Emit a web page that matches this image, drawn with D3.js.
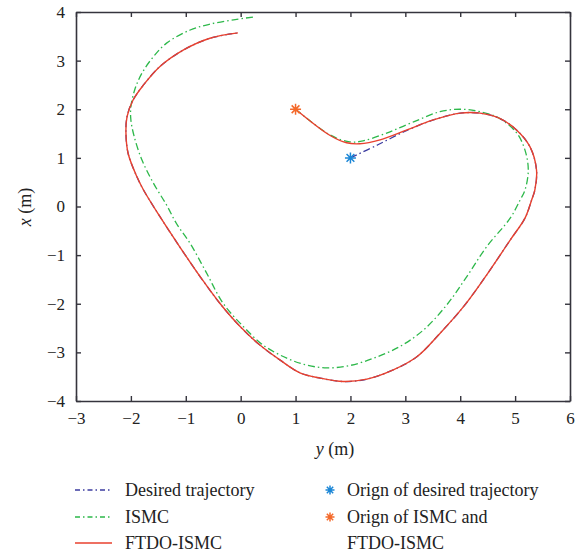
<!DOCTYPE html>
<html>
<head>
<meta charset="utf-8">
<script src="https://cdn.jsdelivr.net/npm/d3@7"></script>
<style>
  body { margin: 0; background: #fff; }
</style>
</head>
<body>
<svg width="585" height="559" font-family="Liberation Serif, DejaVu Serif, serif"></svg>
<script>
// trajectory points, [y, x] in metres
const ftdo = [
  [1.00, 2.00], [1.63, 1.46], [1.93, 1.31], [2.17, 1.29], [2.54, 1.37], [3.02, 1.57],
  [3.51, 1.78], [4.00, 1.92], [4.36, 1.92], [4.72, 1.81], [5.03, 1.57], [5.27, 1.23],
  [5.39, 0.75], [5.36, 0.34], [5.30, 0.13], [5.18, -0.24], [4.91, -0.69], [4.48, -1.41],
  [4.06, -2.06], [3.63, -2.61], [3.21, -3.09], [2.78, -3.36], [2.30, -3.55], [1.87, -3.60],
  [1.45, -3.53], [1.08, -3.42], [0.72, -3.16], [0.35, -2.85], [-0.01, -2.47], [-0.38, -1.99],
  [-0.74, -1.44], [-1.11, -0.83], [-1.47, -0.21], [-1.77, 0.34], [-1.89, 0.61],
  [-2.05, 1.09], [-2.09, 1.51], [-2.07, 1.85], [-1.96, 2.19], [-1.77, 2.50],
  [-1.47, 2.88], [-1.04, 3.22], [-0.56, 3.46], [-0.05, 3.57]
];
const ismc = [
  [1.00, 2.00], [1.63, 1.47], [1.99, 1.33], [2.23, 1.35], [2.66, 1.51], [3.15, 1.74],
  [3.63, 1.95], [4.00, 2.00], [4.36, 1.95], [4.72, 1.81], [5.03, 1.51], [5.18, 1.16],
  [5.24, 0.75], [5.18, 0.34], [5.09, 0.13], [4.91, -0.24], [4.48, -0.83], [4.12, -1.44],
  [3.75, -2.03], [3.33, -2.54], [2.90, -2.88], [2.42, -3.12], [1.99, -3.27], [1.57, -3.32],
  [1.20, -3.26], [0.84, -3.12], [0.41, -2.85], [0.05, -2.47], [-0.32, -1.99], [-0.62, -1.37],
  [-0.92, -0.76], [-1.17, -0.35], [-1.35, 0.03], [-1.59, 0.48], [-1.80, 0.96],
  [-1.94, 1.44], [-2.00, 1.78], [-2.00, 2.05], [-1.93, 2.40], [-1.80, 2.74],
  [-1.59, 3.08], [-1.35, 3.36], [-0.92, 3.63], [-0.56, 3.75], [-0.13, 3.84], [0.26, 3.90]
];
const desiredStart = [[2.00, 1.00], [2.50, 1.27], [3.02, 1.56]];
const desired = desiredStart.concat(ftdo.slice(6));
const originDesired = [2, 1];
const originIsmc = [1, 2];
const xTicks = [-3, -2, -1, 0, 1, 2, 3, 4, 5, 6];
const yTicks = [-4, -3, -2, -1, 0, 1, 2, 3, 4];

const svg = d3.select('svg');
const mLeft = 76, mRight = 570, mTop = 12, mBottom = 401;

const xScale = d3.scaleLinear().domain([-3, 6]).range([mLeft, mRight]);
const yScale = d3.scaleLinear().domain([-4, 4]).range([mBottom, mTop]);

const line = d3.line()
  .x(d => xScale(d[0]))
  .y(d => yScale(d[1]))
  .curve(d3.curveCatmullRom.alpha(0.5));

const colDesired = '#3c3ca0', colIsmc = '#2db84a', colFtdo = '#e8412e';
const colStarB = '#1b86d6', colStarO = '#f4692a';
const axisCol = '#35343d', textCol = '#222222';
const serif = 'Liberation Serif, DejaVu Serif, serif';

svg.append('path').attr('d', line(ismc)).attr('fill', 'none')
  .attr('stroke', colIsmc).attr('stroke-width', 1.3).attr('stroke-dasharray', '7,3,1.5,3');
svg.append('path').attr('d', line(desired)).attr('fill', 'none')
  .attr('stroke', colDesired).attr('stroke-width', 1.3).attr('stroke-dasharray', '7,3,1.5,3');
svg.append('path').attr('d', line(ftdo)).attr('fill', 'none')
  .attr('stroke', colFtdo).attr('stroke-width', 1.4);

function star(g, cx, cy, r, color) {
  const d = 0.707 * r;
  g.append('path')
    .attr('d', `M${cx - r},${cy}L${cx + r},${cy}M${cx},${cy - r}L${cx},${cy + r}` +
      `M${cx - d},${cy - d}L${cx + d},${cy + d}M${cx - d},${cy + d}L${cx + d},${cy - d}`)
    .attr('stroke', color).attr('stroke-width', 1.5).attr('fill', 'none');
}
star(svg, xScale(originDesired[0]), yScale(originDesired[1]), 5.5, colStarB);
star(svg, xScale(originIsmc[0]), yScale(originIsmc[1]), 5.5, colStarO);

// box axes: ticks point inward on all four sides
const fmt = d => d < 0 ? '\u2212' + (-d) : d;
const bx = svg.append('g').attr('transform', `translate(0,${mBottom})`)
  .call(d3.axisBottom(xScale).tickValues(xTicks).tickSizeInner(-5).tickSizeOuter(0).tickPadding(11).tickFormat(fmt));
const tx = svg.append('g').attr('transform', `translate(0,${mTop})`)
  .call(d3.axisTop(xScale).tickValues(xTicks).tickSizeInner(-5).tickSizeOuter(0).tickFormat(''));
const ly = svg.append('g').attr('transform', `translate(${mLeft},0)`)
  .call(d3.axisLeft(yScale).tickValues(yTicks).tickSizeInner(-5).tickSizeOuter(0).tickPadding(11).tickFormat(fmt));
const ry = svg.append('g').attr('transform', `translate(${mRight},0)`)
  .call(d3.axisRight(yScale).tickValues(yTicks).tickSizeInner(-5).tickSizeOuter(0).tickFormat(''));

[bx, tx, ly, ry].forEach(g => {
  g.attr('font-family', serif).attr('font-size', 17);
  g.select('.domain').attr('stroke', axisCol).attr('stroke-width', 1.6);
  g.selectAll('.tick line').attr('stroke', axisCol).attr('stroke-width', 1.4);
  g.selectAll('.tick text').attr('fill', textCol);
});

svg.append('text').attr('x', 335).attr('y', 455).attr('text-anchor', 'middle').attr('font-size', 18)
  .attr('fill', textCol).html('<tspan font-style="italic">y</tspan> (m)');
svg.append('text').attr('transform', 'translate(31,207) rotate(-90)').attr('text-anchor', 'middle')
  .attr('font-size', 18).attr('fill', textCol).html('<tspan font-style="italic">x</tspan> (m)');

// legend
const lg = svg.append('g').attr('font-size', 18).attr('fill', textCol);
const rows = [
  { label: 'Desired trajectory', color: colDesired, dash: '5,3,1.5,3', y: 490 },
  { label: 'ISMC', color: colIsmc, dash: '5,3,1.5,3', y: 517 },
  { label: 'FTDO-ISMC', color: colFtdo, dash: null, y: 543 }
];
rows.forEach(r => {
  lg.append('line').attr('x1', 75).attr('x2', 112).attr('y1', r.y).attr('y2', r.y)
    .attr('stroke', r.color).attr('stroke-width', 1.3).attr('stroke-dasharray', r.dash);
  lg.append('text').attr('x', 125).attr('y', r.y + 6).text(r.label);
});
star(lg, 330, 490, 4.5, colStarB);
lg.append('text').attr('x', 347).attr('y', 496).text('Orign of desired trajectory');
star(lg, 330, 517, 4.5, colStarO);
lg.append('text').attr('x', 347).attr('y', 523).text('Orign of ISMC and');
lg.append('text').attr('x', 347).attr('y', 549).text('FTDO-ISMC');
</script>
</body>
</html>
